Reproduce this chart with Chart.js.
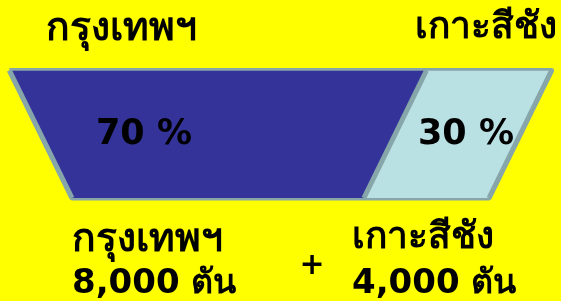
<!DOCTYPE html>
<html>
<head>
<meta charset="utf-8">
<script src="https://cdn.jsdelivr.net/npm/chart.js@4"></script>
<style>
  html, body { margin: 0; padding: 0; background: #ffff00; }
  #wrap { width: 561px; height: 301px; position: relative; }
</style>
</head>
<body>
<div id="wrap"><canvas id="chart"></canvas></div>
<script>
// ข้อมูลสัดส่วนปริมาณ
const places = ['กรุงเทพฯ', 'เกาะสีชัง'];
const shares = [70, 30];          // %
const tonnes = [8000, 4000];      // ตัน
const unit = 'ตัน';
const flare = 15;                 // ด้านบนกว้างออกไปกี่ % (ความเอียงของขอบ)

const FONT = '"DejaVu Sans", sans-serif';

// ขอบของแต่ละส่วน: y = 0 ด้านบน, y = 1 ด้านล่าง
const leftEdge  = [{ x: -flare, y: 0 }, { x: 0, y: 1 }];
const splitEdge = [{ x: shares[0] + flare, y: 0 }, { x: shares[0], y: 1 }];
const rightEdge = [{ x: 100 + flare, y: 0 }, { x: 100, y: 1 }];
const outline = [
    { x: -flare, y: 0 }, { x: 100 + flare, y: 0 },
    { x: 100, y: 1 }, { x: 0, y: 1 }, { x: -flare, y: 0 }
];

const textPlugin = {
    id: 'labels',
    beforeDraw(chart) {
        const c = chart.ctx;
        c.save();
        c.fillStyle = '#ffff00';
        c.fillRect(0, 0, chart.width, chart.height);
        c.restore();
    },
    afterDraw(chart) {
        const c = chart.ctx;
        const ys = chart.scales.y;
        c.save();
        c.fillStyle = '#000';
        c.textAlign = 'left';
        c.textBaseline = 'alphabetic';

        // หัวข้อด้านบน
        c.font = 'bold 39px ' + FONT;
        c.fillText(places[0], 46, 40);
        c.font = 'bold 37px ' + FONT;
        c.fillText(places[1], 415, 38);

        // เปอร์เซ็นต์ในแต่ละส่วน
        c.textAlign = 'center';
        c.textBaseline = 'middle';
        c.font = 'bold 35px ' + FONT;
        const midY = ys.getPixelForValue(0.5) + 1;
        c.fillText(shares[0] + ' %', 144, midY);
        c.fillText(shares[1] + ' %', 466, midY);

        // ปริมาณด้านล่าง
        c.textAlign = 'left';
        c.textBaseline = 'alphabetic';
        c.font = 'bold 39px ' + FONT;
        c.fillText(places[0], 72, 251);
        c.font = 'bold 37px ' + FONT;
        c.fillText(places[1], 352, 248);
        c.font = 'bold 34px ' + FONT;
        c.fillText(tonnes[0].toLocaleString('en-US') + ' ' + unit, 72, 293);
        c.fillText(tonnes[1].toLocaleString('en-US') + ' ' + unit, 352, 293);

        c.textAlign = 'center';
        c.textBaseline = 'middle';
        c.font = 'bold 30px ' + FONT;
        c.fillText('+', 312, 266);
        c.restore();
    }
};

const border = '#87a6aa';

new Chart(document.getElementById('chart'), {
    type: 'line',
    data: {
        datasets: [
            { data: leftEdge, borderColor: border, borderWidth: 5, fill: false },
            { data: splitEdge, borderColor: border, borderWidth: 5, fill: '-1', backgroundColor: '#333399' },
            { data: rightEdge, borderColor: border, borderWidth: 5, fill: '-1', backgroundColor: '#b9e0e3' },
            { data: outline, borderColor: border, borderWidth: 5, fill: false, borderJoinStyle: 'round' }
        ]
    },
    options: {
        indexAxis: 'y',
        responsive: true,
        maintainAspectRatio: false,
        animation: false,
        layout: { padding: 0 },
        elements: { point: { radius: 0 }, line: { tension: 0 } },
        plugins: { legend: { display: false }, tooltip: { enabled: false } },
        scales: {
            x: { type: 'linear', display: false, min: -17.27, max: 117.27 },
            y: { type: 'linear', display: false, reverse: true, min: -0.553, max: 1.808 }
        }
    },
    plugins: [textPlugin]
});
</script>
</body>
</html>
